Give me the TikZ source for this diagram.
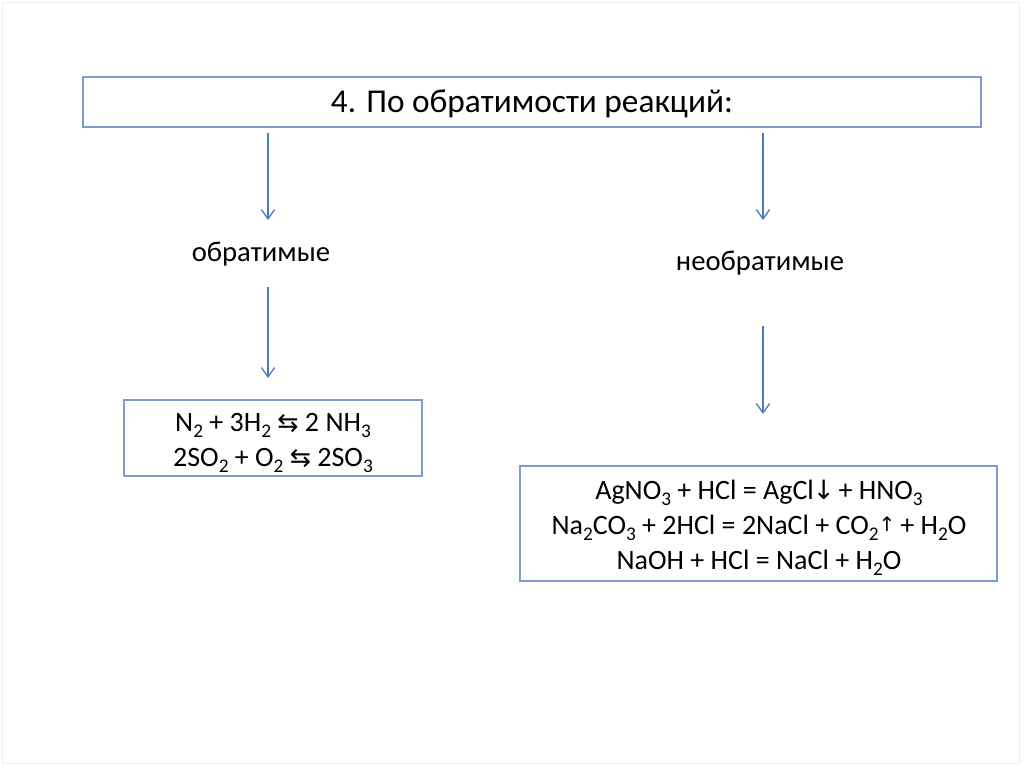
\documentclass[tikz,border=0pt]{standalone}
\usepackage{fontspec}
\setmainfont{Carlito}
\newfontfamily\symfont{DejaVu Sans}
\usetikzlibrary{arrows.meta}
\definecolor{boxcol}{RGB}{125,155,205}
\definecolor{arrcol}{RGB}{74,126,187}
\definecolor{framecol}{RGB}{238,238,238}
\newcommand{\eqarr}{{\symfont\fontsize{19}{19}\selectfont ⇆}}
\newcommand{\dnarr}{{\symfont\fontsize{20}{20}\selectfont\kern-1pt\raisebox{0.5pt}{↓}\kern-2pt}}
\newcommand{\uparr}{{\symfont\fontsize{15}{15}\selectfont\raisebox{2pt}{↑}\kern-1pt}}
\newcommand{\chsub}[1]{\raisebox{-0.22em}{\fontsize{14.5}{14.5}\selectfont #1}}
\begin{document}
\begin{tikzpicture}[x=0.75pt,y=-0.75pt,
  box/.style={draw=boxcol,line width=1.1pt,inner sep=0pt},
  label/.style={inner sep=0pt,font=\fontsize{21.5}{24}\selectfont},
  arr/.style={draw=arrcol,line width=1.1pt,-{Straight Barb[length=7pt,width=10pt,line width=1pt]}},
  eqfont/.style={inner sep=0pt,align=center,font=\fontsize{21}{26}\selectfont}]
\useasboundingbox (0,0) rectangle (1024,767);
\draw[framecol,line width=0.6pt] (2,2) rectangle (1019,763);
\node[box,minimum width=898*0.75pt,minimum height=50*0.75pt] (title) at (532,102) {};
\node[inner sep=0pt,font=\fontsize{25}{28}\selectfont] (titletext) at (532,104) {4. По обратимости реакций:};
\node[label] (rev) at (261,254) {обратимые};
\node[label] (irr) at (760,263) {необратимые};
\node[box,minimum width=298*0.75pt,minimum height=76*0.75pt] (lbox) at (273,438) {};
\node[eqfont] (ltext) at (273,443)
 {N\chsub{2} + 3H\chsub{2} \eqarr{} 2 NH\chsub{3}\\
  2SO\chsub{2} + O\chsub{2} \eqarr{} 2SO\chsub{3}};
\node[box,minimum width=477*0.75pt,minimum height=115*0.75pt] (rbox) at (758.5,523.5) {};
\node[eqfont] (rtext) at (759,527.5)
 {AgNO\chsub{3} + HCl = AgCl\dnarr{} + HNO\chsub{3}\\
  Na\chsub{2}CO\chsub{3} + 2HCl = 2NaCl + CO\chsub{2}\uparr{} + H\chsub{2}O\\
  NaOH + HCl = NaCl + H\chsub{2}O};
\coordinate (a1s) at (268,133);
\coordinate (a1e) at (268,220);
\coordinate (a2s) at (763,133);
\coordinate (a2e) at (763,220);
\coordinate (a3s) at (268,287);
\coordinate (a3e) at (268,378);
\coordinate (a4s) at (763,326);
\coordinate (a4e) at (763,414);
\draw[arr] (a1s) -- (a1e);
\draw[arr] (a2s) -- (a2e);
\draw[arr] (a3s) -- (a3e);
\draw[arr] (a4s) -- (a4e);
\end{tikzpicture}
\end{document}
